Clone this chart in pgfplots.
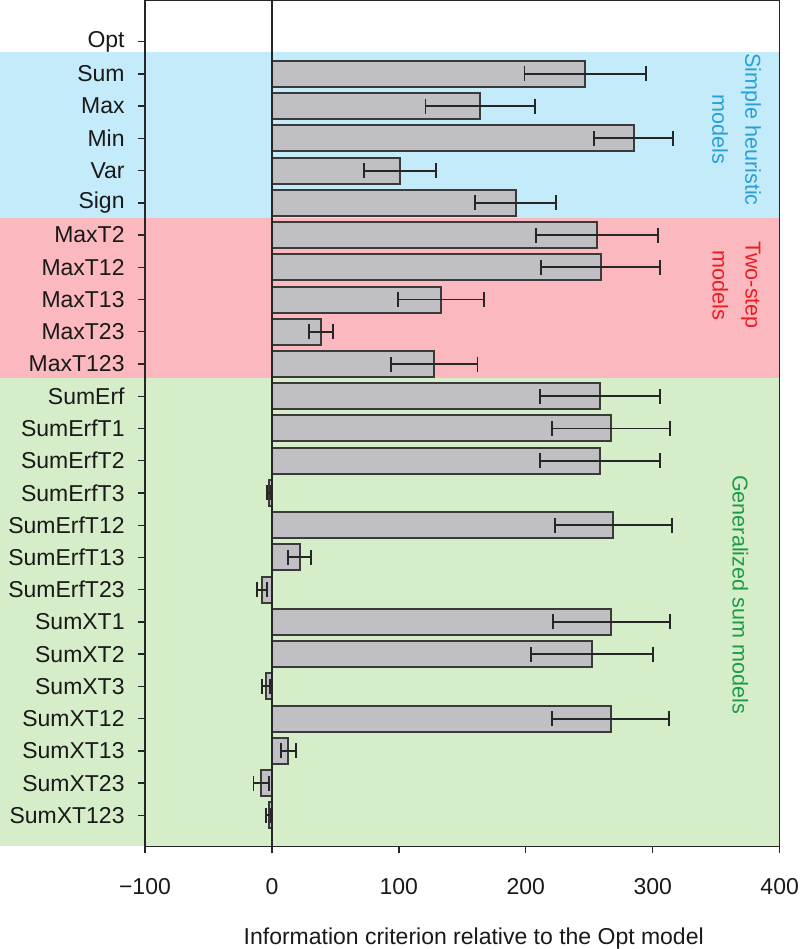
\documentclass[border=0pt]{standalone}
\usepackage{pgfplots}
\pgfplotsset{compat=1.18}
\usepackage{pgfplotstable}
\usepackage{fontspec}
\setmainfont{Liberation Sans}
\definecolor{bandblue}{RGB}{196,235,250}
\definecolor{bandred}{RGB}{251,184,190}
\definecolor{bandgreen}{RGB}{213,237,200}
\definecolor{bargray}{RGB}{191,191,196}
\definecolor{bardraw}{RGB}{58,58,58}
\definecolor{txtblue}{RGB}{42,159,214}
\definecolor{txtred}{RGB}{237,28,36}
\definecolor{txtgreen}{RGB}{30,154,72}
\pgfplotstableread{
i v e
1 247 48
2 164 43
3 285 31
4 101 28.5
5 192 32
6 256 48
7 259 47
8 133 34
9 38.5 9.5
10 128 34
11 258.5 47.5
12 267 46.5
13 258.5 47.5
14 -2.5 1.5
15 269 46
16 22 9
17 -8 4
18 267.5 46
19 252 48
20 -4.5 3
21 267 46
22 13 6
23 -8.5 6
24 -2.5 2
}\data
\begin{document}
\begin{tikzpicture}
\begin{axis}[
  scale only axis, width=317.5pt, height=423pt,
  xmin=-100, xmax=400, ymin=-1.27, ymax=24.96,
  y dir=reverse, clip=false, axis on top,
  axis line style={line width=0.7pt, black!85},
  xtick={-100,0,100,200,300,400},
  xticklabels={−100,0,100,200,300,400},
  ytick={0,...,24},
  yticklabels={Opt,Sum,Max,Min,Var,Sign,MaxT2,MaxT12,MaxT13,MaxT23,MaxT123,SumErf,SumErfT1,SumErfT2,SumErfT3,SumErfT12,SumErfT13,SumErfT23,SumXT1,SumXT2,SumXT3,SumXT12,SumXT13,SumXT23,SumXT123},
  tick align=outside, major tick length=3.5pt,
  xtick pos=bottom, ytick pos=left,
  tick style={line width=0.7pt, black!85},
  tick label style={font=\fontsize{11.5pt}{13pt}\selectfont, text=black!90},
  xticklabel style={anchor=base, yshift=-20.5pt},
  yticklabel style={anchor=east, inner sep=0pt, xshift=-6.5pt},
  xlabel={Information criterion relative to the Opt model},
  xlabel style={at={(axis description cs:0.518,0)}, anchor=base, inner sep=0pt, yshift=-49pt, font=\fontsize{11.5pt}{13pt}\selectfont, text=black!90},
]
\fill[bandblue] (axis cs:-214.2,0.31) rectangle (axis cs:400,5.457);
\fill[bandred] (axis cs:-214.2,5.457) rectangle (axis cs:400,10.42);
\fill[bandgreen] (axis cs:-214.2,10.42) rectangle (axis cs:400,24.96);
\addplot[xbar, bar width=0.806, fill=bargray, draw=bardraw, line width=1pt,
  error bars/.cd, x dir=both, x explicit,
  error bar style={line width=0.95pt, black!85},
  error mark options={rotate=90, line width=0.95pt, black!85, mark size=3.75pt}]
  table[x=v, y=i, x error=e] {\data};
\draw[line width=0.7pt, black!85] (axis cs:0,-1.27) -- (axis cs:0,24.96);
\node[rotate=-90, align=center, text=txtblue, font=\fontsize{10.8pt}{16.5pt}\selectfont] at (axis cs:366,2.73) {Simple heuristic\\models};
\node[rotate=-90, align=center, text=txtred, font=\fontsize{10.8pt}{16.5pt}\selectfont] at (axis cs:366,7.55) {Two-step\\models};
\node[rotate=-90, text=txtgreen, font=\fontsize{10.8pt}{16.5pt}\selectfont] at (axis cs:369,17.15) {Generalized sum models};
\end{axis}
\end{tikzpicture}
\end{document}
